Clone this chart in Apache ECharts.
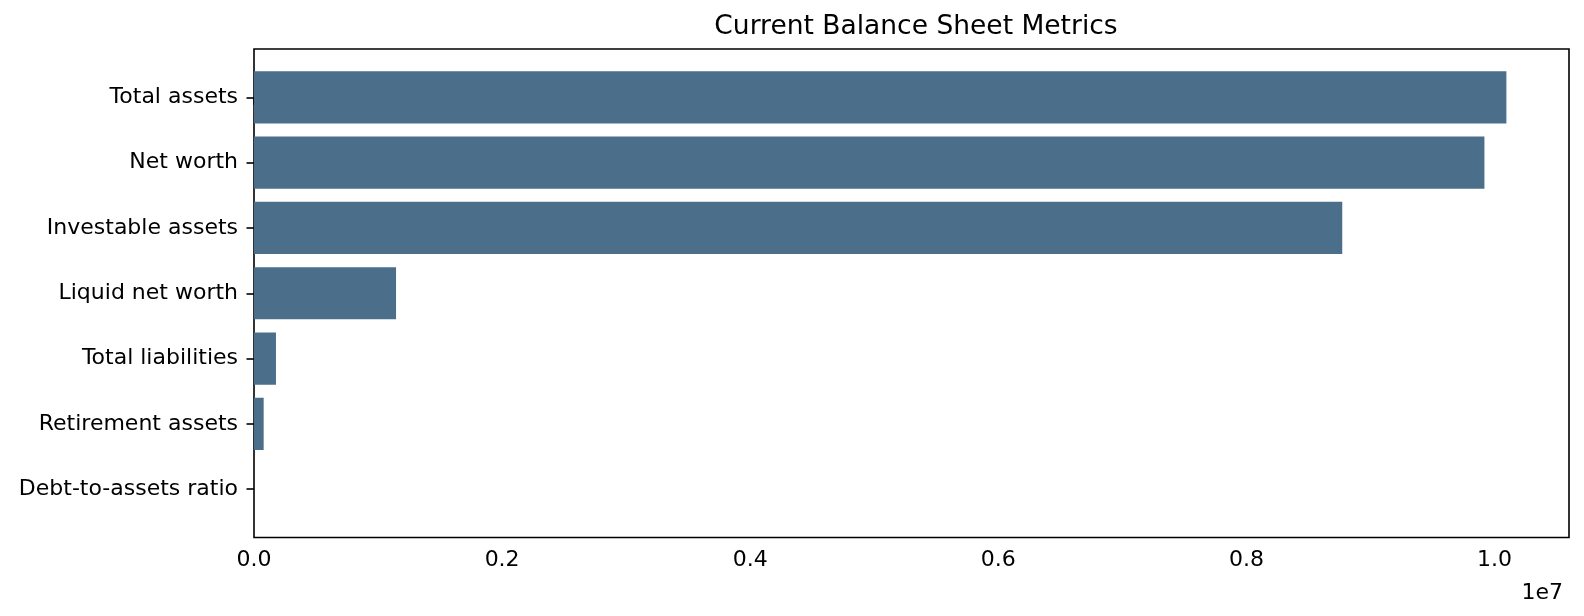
<!DOCTYPE html>
<html>
<head>
<meta charset="utf-8">
<script src="https://cdn.jsdelivr.net/npm/echarts@6/dist/echarts.min.js"></script>
<style>
  html, body { margin: 0; padding: 0; background: #fff; }
  #chart { width: 1584px; height: 616px; }
</style>
</head>
<body>
<div id="chart"></div>
<script>
// datos (orden de arriba hacia abajo)
const categories = [
  'Total assets',
  'Net worth',
  'Investable assets',
  'Liquid net worth',
  'Total liabilities',
  'Retirement assets',
  'Debt-to-assets ratio'
];
const values = [10095000, 9918000, 8772000, 1145000, 177000, 78000, 0.0175];
const xTicks = [0, 2000000, 4000000, 6000000, 8000000, 10000000];
const xTickLabels = ['0.0', '0.2', '0.4', '0.6', '0.8', '1.0'];

const barColor = '#4b6f8a';
const font = 'DejaVu Sans';

// margen del 5% como en matplotlib
const xMax = Math.max(...values) * 1.05;
const yPad = (categories.length - 1 + 0.8) * 0.05;

const chart = echarts.init(document.getElementById('chart'));

chart.setOption({
  animation: false,
  backgroundColor: '#fff',
  title: [
    {
      text: 'Current Balance Sheet Metrics',
      left: 911, textAlign: 'center', top: 9,
      textStyle: { fontFamily: font, fontSize: 26.5, fontWeight: 'normal', color: '#000' }
    },
    {
      text: '1e7',
      right: 16, top: 577,
      textStyle: { fontFamily: font, fontSize: 22, fontWeight: 'normal', color: '#000' }
    }
  ],
  grid: {
    left: 254, right: 15, top: 49, bottom: 78.5,
    show: true, borderColor: '#000', borderWidth: 1.6, backgroundColor: 'transparent'
  },
  xAxis: {
    type: 'value',
    min: 0,
    max: xMax,
    splitLine: { show: false },
    axisLine: { show: false },
    axisTick: { show: true, length: 7.5, customValues: xTicks, lineStyle: { color: '#000', width: 1.6 } },
    axisLabel: {
      customValues: xTicks,
      margin: 12,
      fontFamily: font, fontSize: 22, color: '#000',
      formatter: (v) => xTickLabels[xTicks.indexOf(v)] ?? ''
    }
  },
  yAxis: {
    type: 'value',
    inverse: true,
    min: -0.4 - yPad,
    max: categories.length - 1 + 0.4 + yPad,
    splitLine: { show: false },
    axisLine: { show: false },
    axisTick: { show: true, length: 7.5, customValues: categories.map((c, i) => i), lineStyle: { color: '#000', width: 1.6 } },
    axisLabel: {
      customValues: categories.map((c, i) => i),
      margin: 16,
      fontFamily: font, fontSize: 22, color: '#000',
      formatter: (v) => categories[Math.round(v)] ?? ''
    }
  },
  series: [{
    type: 'custom',
    encode: { x: 0, y: 1 },
    data: values.map((v, i) => [v, i]),
    renderItem: (params, api) => {
      const i = api.value(1);
      const p0 = api.coord([0, i - 0.4]);
      const p1 = api.coord([api.value(0), i + 0.4]);
      return {
        type: 'rect',
        shape: {
          x: p0[0],
          y: Math.min(p0[1], p1[1]),
          width: p1[0] - p0[0],
          height: Math.abs(p1[1] - p0[1])
        },
        style: { fill: barColor }
      };
    }
  }]
});
</script>
</body>
</html>
